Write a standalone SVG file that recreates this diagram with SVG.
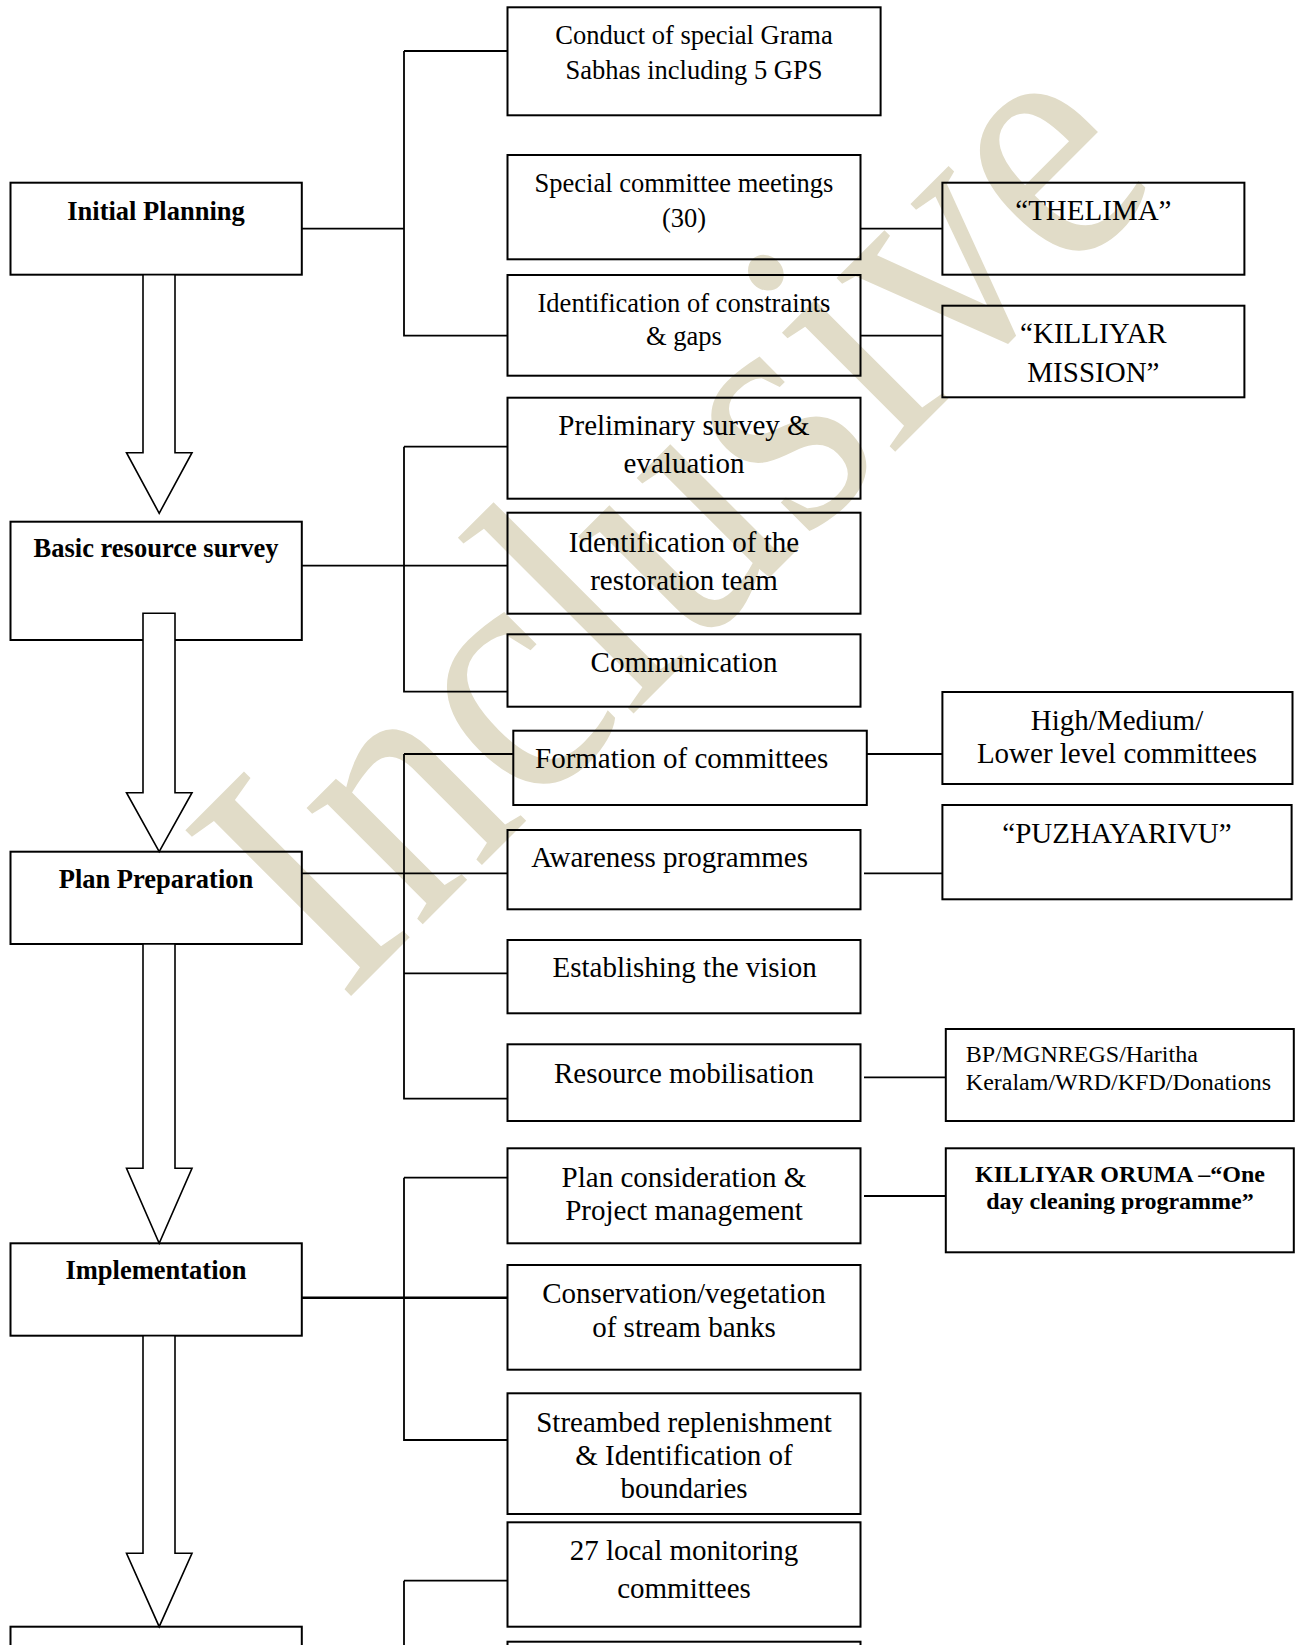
<svg xmlns="http://www.w3.org/2000/svg" width="1295" height="1645" viewBox="0 0 1295 1645">
<style>
.box{fill:none;stroke:#000;stroke-width:2}
.arrow{fill:#fff;stroke:#000;stroke-width:1.6;stroke-linejoin:miter}
.con{fill:none;stroke:#000;stroke-width:1.8}
text{font-family:"Liberation Serif","Times New Roman",serif;fill:#000}
.t{font-size:29px;text-anchor:middle}
.s{font-size:26.5px;text-anchor:middle}
.b{font-size:26.5px;font-weight:bold;text-anchor:middle}
.bs{font-size:24px;font-weight:bold;text-anchor:middle}
.l{font-size:24px}
.wm{font-size:358px;fill:#e1dcc8}
</style>
<rect x="0" y="0" width="1295" height="1645" fill="#fff"/>
<text class="wm" transform="translate(343,1004) rotate(-45) scale(0.885,1)">Inclusive</text>

<g id="connectors">
<path class="con" d="M404,51 H507.5 M404,51 V335.7 H507.5 M301.8,228.7 H404"/>
<path class="con" d="M860.5,228.7 H942.4 M860.5,335.7 H942.4"/>
<path class="con" d="M404,446.7 H507.5 M404,446.7 V691.7 H507.5 M301.8,565.7 H507.5"/>
<path class="con" d="M404,754 H513.3 M404,754 V1098.7 H507.5 M404,973.3 H507.5 M301.8,873.3 H507.5"/>
<path class="con" d="M866.8,754 H942.4 M864,873.3 H942.4 M864,1077.3 H945.8 M864,1196 H945.8"/>
<path class="con" d="M404,1177.7 H507.5 M404,1177.7 V1440 H507.5"/>
<path class="con" d="M301.8,1297.7 H507.5" style="stroke-width:2.6"/>
<path class="con" d="M404,1580.7 H507.5 M404,1580.7 V1646"/>
</g>

<g id="initial-planning"><rect class="box" x="10.5" y="182.7" width="291.3" height="92"/><text class="b" x="156" y="220">Initial Planning</text></g>
<g id="basic-resource-survey"><rect class="box" x="10.5" y="521.7" width="291.3" height="118.3"/><text class="b" x="156" y="556.7">Basic resource survey</text></g>
<g id="plan-preparation"><rect class="box" x="10.5" y="851.7" width="291.3" height="92.3"/><text class="b" x="156" y="888.3">Plan Preparation</text></g>
<g id="implementation"><rect class="box" x="10.5" y="1243.3" width="291.3" height="92.4"/><text class="b" x="156" y="1279.3">Implementation</text></g>
<g id="monitoring"><rect class="box" x="10.5" y="1626.7" width="291.3" height="40"/></g>

<g id="arrows">
<polygon class="arrow" points="143,274.7 175,274.7 175,452.7 192,452.7 159.2,513.3 126.5,452.7 143,452.7"/>
<polygon class="arrow" points="143,613.3 175,613.3 175,792.7 192,792.7 159.2,851.7 126.5,792.7 143,792.7"/>
<polygon class="arrow" points="143,944 175,944 175,1168.3 192,1168.3 159.2,1243.3 126.5,1168.3 143,1168.3"/>
<polygon class="arrow" points="143,1335.7 175,1335.7 175,1553.3 192,1553.3 159.2,1626.7 126.5,1553.3 143,1553.3"/>
</g>

<g id="grama-sabhas"><rect class="box" x="507.5" y="7.3" width="373.1" height="108"/><text class="s" x="694" y="44.3">Conduct of special Grama</text><text class="s" x="694" y="79">Sabhas including 5 GPS</text></g>
<g id="committee-meetings"><rect class="box" x="507.5" y="155" width="353" height="104.3"/><text class="s" x="684" y="191.7">Special committee meetings</text><text class="s" x="684" y="226.7">(30)</text></g>
<g id="constraints"><rect class="box" x="507.5" y="275" width="353" height="100.7"/><text class="s" x="684" y="311.7">Identification of constraints</text><text class="s" x="684" y="345">&amp; gaps</text></g>
<g id="thelima"><rect class="box" x="942.4" y="182.7" width="302" height="92"/><text class="t" x="1093.4" y="220">“THELIMA”</text></g>
<g id="killiyar-mission"><rect class="box" x="942.4" y="305.7" width="302" height="91.6"/><text class="t" x="1093.4" y="343.3">“KILLIYAR</text><text class="t" x="1093.4" y="381.7">MISSION”</text></g>

<g id="preliminary-survey"><rect class="box" x="507.5" y="397.7" width="353" height="101"/><text class="t" x="684" y="435">Preliminary survey &amp;</text><text class="t" x="684" y="473.3">evaluation</text></g>
<g id="restoration-team"><rect class="box" x="507.5" y="512.7" width="353" height="101"/><text class="t" x="684" y="551.7">Identification of the</text><text class="t" x="684" y="590">restoration team</text></g>
<g id="communication"><rect class="box" x="507.5" y="634.3" width="353" height="72.4"/><text class="t" x="684" y="672.3">Communication</text></g>

<g id="formation-committees"><rect class="box" x="513.3" y="730.7" width="353.5" height="74.3"/><text class="t" x="681.6" y="768.3">Formation of committees</text></g>
<g id="level-committees"><rect class="box" x="942.4" y="692" width="350.1" height="92"/><text class="t" x="1117" y="730">High/Medium/</text><text class="t" x="1117" y="763.3">Lower level committees</text></g>
<g id="awareness"><rect class="box" x="507.5" y="830" width="353" height="79.3"/><text class="t" x="669.6" y="867">Awareness programmes</text></g>
<g id="puzhayarivu"><rect class="box" x="942.4" y="805" width="349.2" height="94.3"/><text class="t" x="1117" y="843.3">“PUZHAYARIVU”</text></g>
<g id="vision"><rect class="box" x="507.5" y="940" width="353" height="73.3"/><text class="t" x="684.6" y="976.7">Establishing the vision</text></g>
<g id="resource-mobilisation"><rect class="box" x="507.5" y="1044.3" width="353" height="76.7"/><text class="t" x="684" y="1083.3">Resource mobilisation</text></g>
<g id="funding"><rect class="box" x="945.8" y="1029" width="348" height="92"/><text class="l" x="965.8" y="1061.7">BP/MGNREGS/Haritha</text><text class="l" x="965.8" y="1090">Keralam/WRD/KFD/Donations</text></g>

<g id="plan-consideration"><rect class="box" x="507.5" y="1148.3" width="353" height="95"/><text class="t" x="684" y="1186.7">Plan consideration &amp;</text><text class="t" x="684" y="1220">Project management</text></g>
<g id="killiyar-oruma"><rect class="box" x="945.8" y="1148.3" width="348" height="104"/><text class="bs" x="1120" y="1181.7">KILLIYAR ORUMA –“One</text><text class="bs" x="1120" y="1209.3">day cleaning programme”</text></g>
<g id="conservation"><rect class="box" x="507.5" y="1265" width="353" height="104.7"/><text class="t" x="684" y="1303.3">Conservation/vegetation</text><text class="t" x="684" y="1336.7">of stream banks</text></g>
<g id="streambed"><rect class="box" x="507.5" y="1393.3" width="353" height="120.7"/><text class="t" x="684" y="1431.7">Streambed replenishment</text><text class="t" x="684" y="1465">&amp; Identification of</text><text class="t" x="684" y="1498.3">boundaries</text></g>
<g id="local-monitoring"><rect class="box" x="507.5" y="1522.3" width="353" height="104.4"/><text class="t" x="684" y="1560">27 local monitoring</text><text class="t" x="684" y="1598.3">committees</text></g>
<g id="next-item"><rect class="box" x="507.5" y="1641.7" width="353" height="30"/></g>
</svg>
